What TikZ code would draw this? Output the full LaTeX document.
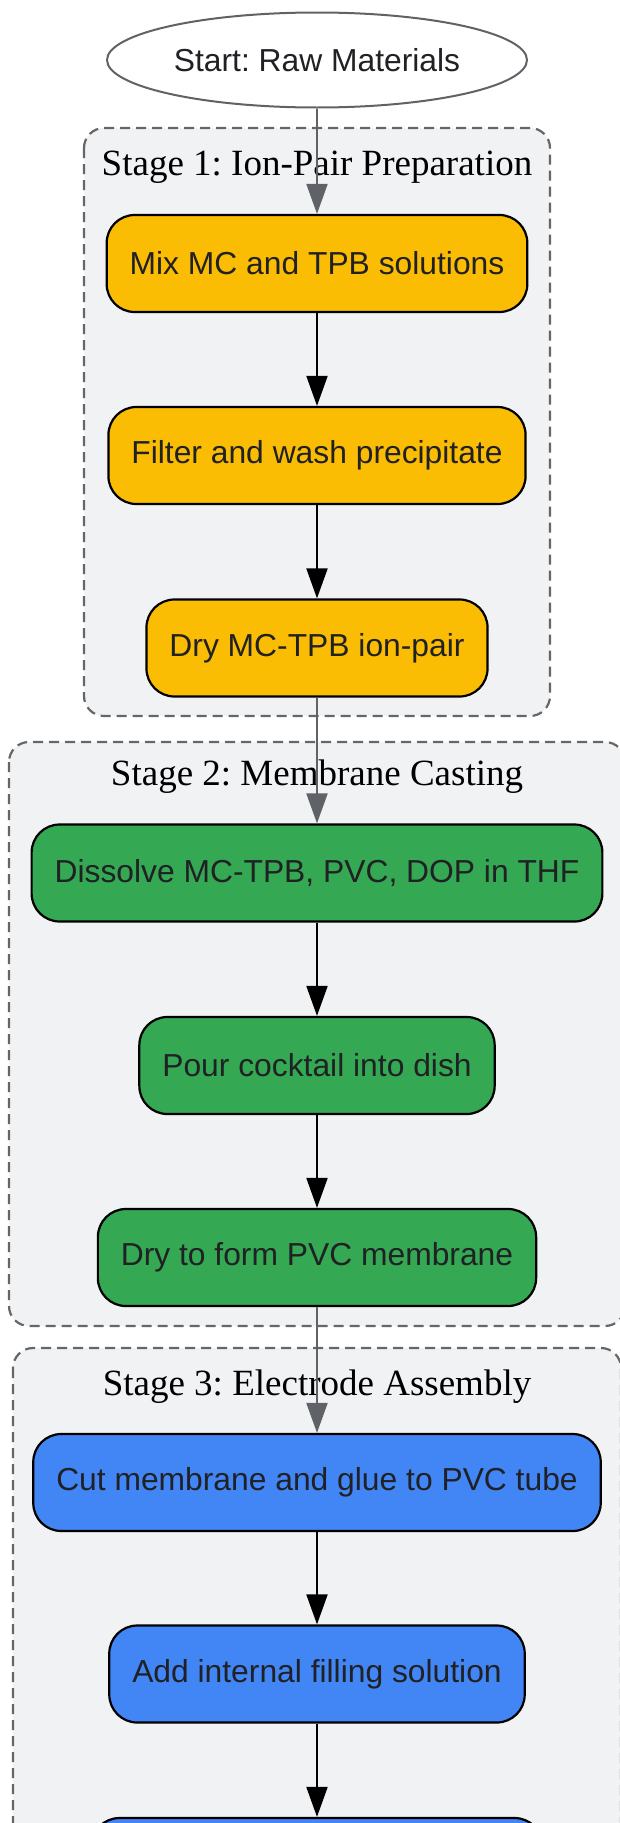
\documentclass[tikz,border=0pt]{standalone}
\usepackage{fontspec}
\setmainfont{Liberation Serif}
\newfontfamily\stepfont{Liberation Sans}
\usetikzlibrary{arrows.meta,shapes.geometric}

\definecolor{ionyellow}{HTML}{FBBC04}
\definecolor{castgreen}{HTML}{34A853}
\definecolor{asmblue}{HTML}{4285F4}
\definecolor{clusterbg}{HTML}{F1F2F4}
\definecolor{clusterline}{HTML}{666666}
\definecolor{edgegray}{HTML}{5F6368}
\definecolor{textdark}{HTML}{202124}

\frenchspacing

\begin{document}
\begin{tikzpicture}[x=1pt,y=-1pt,
    stepbox/.style={draw=black,line width=2.2pt,rounded corners=28pt,
        minimum height=97pt,inner xsep=23pt,inner ysep=0pt,text=textdark,
        font=\stepfont\fontsize{31.8}{36}\selectfont},
    ionstep/.style={stepbox,fill=ionyellow},
    caststep/.style={stepbox,fill=castgreen},
    asmstep/.style={stepbox,fill=asmblue},
    startnode/.style={ellipse,draw=edgegray,line width=2pt,fill=white,
        minimum width=420pt,minimum height=95pt,inner sep=0pt,text=textdark,
        font=\stepfont\fontsize{31.8}{36}\selectfont},
    cluster/.style={draw=clusterline,fill=clusterbg,line width=2.2pt,
        dash pattern=on 10pt off 6pt,rounded corners=20pt},
    stagetitle/.style={anchor=base,inner sep=0pt,text=black,
        font=\fontsize{37}{42}\selectfont},
    flow/.style={draw=black,line width=2pt,-{Triangle[length=30pt,width=21pt]}},
    crossflow/.style={flow,draw=edgegray}
    ]

    % page frame, the bottom is cut off as in the picture
    \useasboundingbox (0,0) rectangle (620,1823);
    \clip (0,0) rectangle (620,1823);

    %stage frames
    \draw[cluster] (84,128) rectangle (550,716);
    \draw[cluster] (9,742) rectangle (625,1326);
    \draw[cluster] (13,1348) rectangle (621,1950);

    \node[stagetitle] (t1) at (317,175) {Stage 1: Ion-Pair Preparation};
    \node[stagetitle] (t2) at (317,785) {Stage 2: Membrane Casting};
    \node[stagetitle] (t3) at (317,1395) {Stage 3: Electrode Assembly};

    \node[startnode] (start) at (317,60) {Start: Raw Materials};

    % Stage 1
    \node[ionstep] (mix) at (317,263.5) {Mix MC and TPB solutions};
    \node[ionstep] (filter) at (317,455.5) {Filter and wash precipitate};
    \node[ionstep] (dryion) at (317,648) {Dry MC-TPB ion-pair};

    % Stage 2
    \node[caststep] (dissolve) at (317,873) {Dissolve MC-TPB, PVC, DOP in THF};
    \node[caststep] (pour) at (317,1065.5) {Pour cocktail into dish};
    \node[caststep] (drymem) at (317,1257.5) {Dry to form PVC membrane};

    % Stage 3
    \node[asmstep] (cut) at (317,1482.5) {Cut membrane and glue to PVC tube};
    \node[asmstep] (fill) at (317,1674) {Add internal filling solution};
    \node[asmstep,minimum width=451pt] (last) at (317,1866.5) {};

    \draw[crossflow] (start) -- (mix);
    \draw[flow] (mix) -- (filter);
    \draw[flow] (filter) -- (dryion);
    \draw[crossflow] (dryion) -- (dissolve);
    \draw[flow] (dissolve) -- (pour);
    \draw[flow] (pour) -- (drymem);
    \draw[crossflow] (drymem) -- (cut);
    \draw[flow] (cut) -- (fill);
    \draw[flow] (fill) -- (last);
\end{tikzpicture}
\end{document}
